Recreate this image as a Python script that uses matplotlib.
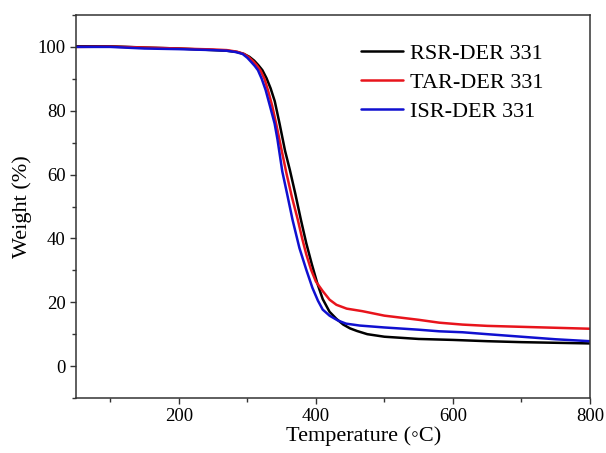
import matplotlib
matplotlib.use("Agg")
import matplotlib.pyplot as plt
from matplotlib.ticker import MultipleLocator

plt.rcParams['font.family'] = ['Liberation Serif', 'DejaVu Serif']

# RSR-DER 331 (black)
rsr_T = [50, 100, 150, 200, 250, 270, 285, 295, 303, 310, 316, 322, 328, 334, 340, 347,
         355, 362, 370, 378, 386, 394, 402, 410, 420, 430, 440, 450, 460, 475, 500, 550,
         600, 650, 700, 750, 800]
rsr_W = [100.2, 100.2, 99.8, 99.5, 99.0, 98.8, 98.4, 97.8, 96.9, 95.7, 94.3, 92.7, 90.2,
         87.0, 83.0, 76.0, 67.5, 61.5, 54.0, 46.0, 38.5, 32.0, 26.0, 21.0, 17.0, 14.8,
         13.0, 11.8, 11.0, 10.0, 9.2, 8.5, 8.2, 7.8, 7.5, 7.3, 7.1]

# TAR-DER 331 (red)
tar_T = [50, 100, 150, 200, 250, 270, 285, 295, 302, 309, 314, 319, 325, 330, 336, 342,
         349.5, 357, 365, 373.7, 380, 386, 393, 400, 410, 420, 430, 445, 468, 500, 550,
         580, 614, 650, 700, 750, 800]
tar_W = [100.0, 100.1, 99.8, 99.5, 99.2, 99.0, 98.5, 97.8, 96.8, 95.4, 94.2, 92.7, 90.0,
         86.5, 81.8, 76.0, 68.2, 60.5, 53.0, 45.8, 40.0, 35.0, 30.2, 26.5, 23.5, 20.8,
         19.2, 18.0, 17.2, 15.8, 14.5, 13.6, 13.0, 12.6, 12.3, 12.0, 11.7]

# ISR-DER 331 (blue)
isr_T = [50, 100, 150, 200, 250, 270, 283, 293, 300, 306, 311, 315.5, 321, 326.7, 333,
         339.8, 344, 351, 358, 366, 376, 386, 395, 403, 410, 420, 432, 444, 464, 500, 550,
         580, 614, 650, 700, 750, 800]
isr_W = [100.0, 100.0, 99.5, 99.3, 99.0, 98.8, 98.4, 97.8, 96.6, 95.2, 94.0, 92.7, 90.0,
         86.5, 81.5, 76.0, 71.0, 61.0, 54.0, 45.8, 37.0, 30.2, 24.5, 20.5, 17.7, 15.8,
         14.3, 13.3, 12.7, 12.1, 11.4, 10.9, 10.6, 10.0, 9.2, 8.4, 7.8]

labels = ['RSR-DER 331', 'TAR-DER 331', 'ISR-DER 331']
colors = ['#000000', '#e8141c', '#1010d0']

fig = plt.figure(figsize=(6.06, 4.53), dpi=100)
ax = fig.add_axes([0.1254, 0.1214, 0.8482, 0.8455])

for T, W, lab, c in zip([rsr_T, tar_T, isr_T], [rsr_W, tar_W, isr_W], labels, colors):
    ax.plot(T, W, color=c, lw=1.8, label=lab, solid_capstyle='round',
            solid_joinstyle='round')

ax.set_xlim(50, 800)
ax.set_ylim(-10, 110)
ax.xaxis.set_major_locator(MultipleLocator(200))
ax.xaxis.set_minor_locator(MultipleLocator(100))
ax.yaxis.set_major_locator(MultipleLocator(20))
ax.yaxis.set_minor_locator(MultipleLocator(10))
ax.tick_params(which='both', direction='out', top=False, right=False,
               labelsize=13.5, color='#333333', width=1.0, pad=3)
ax.tick_params(which='major', length=4.5)
ax.tick_params(which='minor', length=3)
for s in ax.spines.values():
    s.set_linewidth(1.1)
    s.set_color('#333333')

ax.set_xlabel('Temperature (\u25e6C)', fontsize=16)
ax.xaxis.set_label_coords(0.56, -0.075)
ax.set_ylabel('Weight (%)', fontsize=16, labelpad=4)

ax.legend(loc='upper left', bbox_to_anchor=(0.555, 0.927), frameon=False,
          fontsize=16, handlelength=1.9, handletextpad=0.3, labelspacing=0.39,
          borderpad=0, borderaxespad=0)

fig.savefig('out.png', dpi=100)
